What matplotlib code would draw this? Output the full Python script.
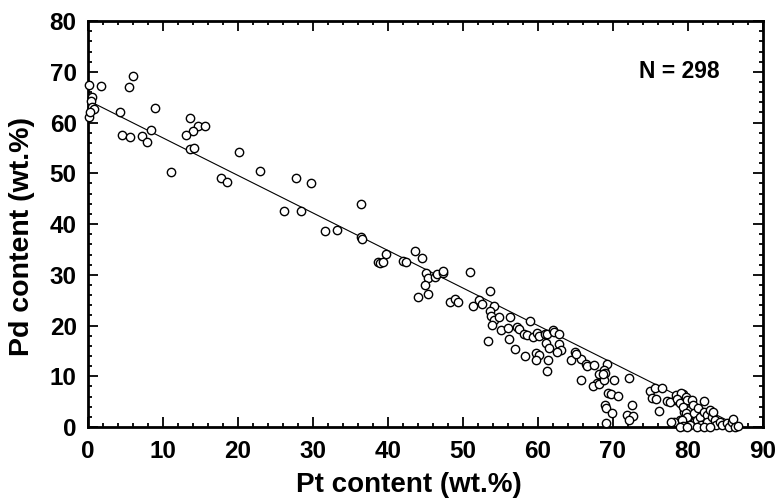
import matplotlib
matplotlib.use("Agg")
import matplotlib.pyplot as plt
from matplotlib.ticker import MultipleLocator
import numpy as np

pt = [0.2, 0.5, 0.4, 0.6, 0.8, 0.2, 0.3,
      1.7, 6.0, 5.5, 4.3, 9.0, 4.5, 5.6, 7.2, 7.9, 8.4, 13.6, 14.7, 15.6, 14.0, 13.1, 13.6, 14.1, 20.1, 11.1,
      17.8, 18.5, 22.9, 27.7, 29.8, 36.4, 26.2, 28.4, 31.6, 33.2, 36.4, 36.6, 38.7,
      39.8, 38.9, 39.3, 42.0, 42.4, 43.6, 44.6, 45.1, 45.4, 46.3, 46.6, 47.3, 47.4, 44.9, 45.4, 44.0, 50.9,
      48.3, 49.0, 49.4, 51.3, 52.2, 52.5, 53.6, 54.2, 53.6, 53.7, 54.1, 54.8, 56.3, 53.9, 55.1, 56.0, 57.2,
      57.5, 53.3, 56.1, 57.0,
      59.0, 58.1, 58.5, 59.3, 59.9, 60.2, 61.0, 61.2, 62.0, 62.2, 62.8, 61.1, 61.5, 62.8, 63.1, 62.6, 58.3,
      59.7, 60.2, 59.7, 61.3, 61.2, 65.0, 64.4, 65.7, 66.4, 66.6, 67.5, 69.2, 68.1, 68.8, 69.0, 65.8, 67.9,
      67.3, 68.1, 68.8, 70.2, 72.1, 69.4, 69.7, 70.7, 69.0, 69.1, 69.9, 72.5, 71.9, 72.7, 69.1,
      65.1, 68.7, 72.1,
      75.0, 75.6, 76.5, 75.2, 75.8, 76.2, 77.2, 78.3, 78.9, 79.4, 79.6, 80.0, 79.8, 79.5, 80.1, 79.0, 78.1,
      79.8, 80.0,
      77.6, 77.8, 78.4, 79.1, 78.6, 79.0, 79.8, 79.9, 79.4, 80.3, 79.8, 79.9, 79.2, 79.4, 80.5, 80.7, 80.8,
      81.2, 81.4, 81.6, 81.8, 82.2, 82.2, 82.5, 82.5, 83.0, 83.2, 83.4, 83.6, 83.8, 84.3, 84.5, 85.2, 85.4,
      85.8, 86.0, 86.3, 86.7, 80.3, 81.2, 82.1, 83.0, 79.0, 79.9]
pd_ = [67.5, 65.0, 64.2, 63.1, 62.6, 61.2, 62.0,
       67.2, 69.2, 67.1, 62.1, 62.9, 57.6, 57.1, 57.3, 56.1, 58.6, 60.9, 59.4, 59.3, 58.3, 57.5, 54.8, 55.0, 54.2, 50.2,
       49.0, 48.2, 50.4, 49.0, 48.1, 44.0, 42.6, 42.6, 38.7, 38.9, 37.5, 37.1, 32.6,
       34.1, 32.4, 32.6, 32.7, 32.5, 34.7, 33.4, 30.3, 29.4, 29.6, 30.1, 30.3, 30.8, 28.0, 26.3, 25.7, 30.5,
       24.7, 25.2, 24.6, 23.9, 25.0, 24.2, 26.9, 23.8, 22.9, 21.9, 21.1, 21.6, 21.6, 20.1, 19.2, 19.6, 19.8,
       19.3, 17.0, 17.3, 15.3,
       20.9, 18.3, 18.1, 17.8, 18.6, 17.9, 18.3, 18.4, 19.2, 18.8, 18.3, 16.6, 15.6, 16.3, 15.2, 14.7, 14.1,
       14.5, 14.2, 13.3, 13.2, 11.0, 14.7, 13.3, 13.5, 12.4, 12.1, 12.2, 12.5, 10.4, 11.2, 10.7, 9.3, 8.7,
       8.1, 8.4, 9.3, 9.3, 9.7, 6.8, 6.5, 6.2, 4.3, 3.7, 2.7, 4.3, 2.4, 2.2, 0.7,
       14.3, 10.4, 1.4,
       7.2, 7.6, 7.6, 5.7, 5.5, 3.2, 5.1, 5.3, 6.3, 6.6, 5.5, 5.0, 3.8, 3.0, 2.6, 1.4, 1.0,
       1.2, 1.9,
       5.0, 1.0, 6.3, 6.8, 5.5, 4.7, 5.9, 5.3, 4.0, 3.3, 2.8, 1.9, 1.4, 0.2, 5.3, 4.3, 2.7,
       1.4, 3.7, 2.0, 0.4, 5.1, 3.0, 2.4, 1.0, 3.3, 1.9, 3.0, 1.4, 0.4, 1.0, 0.4, 0.7, 0.1,
       1.0, 1.5, 0.1, 0.2, 0.4, 0.0, 0.0, 0.0, 0.0, 0.0]

fit_intercept = 64.4
fit_slope = -0.74
n_label = "N = 298"
xticks = [0, 10, 20, 30, 40, 50, 60, 70, 80, 90]
yticks = [0, 10, 20, 30, 40, 50, 60, 70, 80]

plt.rcParams['font.family'] = ['Liberation Sans', 'DejaVu Sans']
plt.rcParams['font.weight'] = 'bold'

fig = plt.figure(figsize=(7.77, 5.03), dpi=100)
ax = fig.add_axes([0.113, 0.151, 0.869, 0.807])

ax.plot(pt, pd_, linestyle='none', marker='o', ms=6, mfc='white', mec='black', mew=1.0, clip_on=False, zorder=3)

xl = np.array([0, -fit_intercept / fit_slope])
ax.plot(xl, fit_intercept + fit_slope * xl, color='black', lw=0.8, zorder=2)

ax.set_xlim(0, 90)
ax.set_ylim(0, 80)
ax.set_xticks(xticks)
ax.set_yticks(yticks)
ax.xaxis.set_minor_locator(MultipleLocator(2))
ax.yaxis.set_minor_locator(MultipleLocator(2))
ax.tick_params(which='both', direction='in', top=True, right=True, width=1.3)
ax.tick_params(which='major', length=7, labelsize=17.5)
ax.tick_params(axis='x', which='major', pad=9)
ax.tick_params(axis='y', which='major', pad=8)
ax.tick_params(which='minor', length=3)
for lab in ax.get_xticklabels() + ax.get_yticklabels():
    lab.set_fontweight('bold')
for s in ax.spines.values():
    s.set_linewidth(2)

ax.set_xlabel("Pt content (wt.%)", fontsize=20, fontweight='bold')
ax.set_ylabel("Pd content (wt.%)", fontsize=20.5, fontweight='bold')
ax.xaxis.set_label_coords(0.475, -0.11)
ax.yaxis.set_label_coords(-0.078, 0.47)
ax.text(0.935, 0.875, n_label, transform=ax.transAxes, ha='right', va='center', fontsize=16.5, fontweight='bold')

fig.savefig("out.png", dpi=100)
